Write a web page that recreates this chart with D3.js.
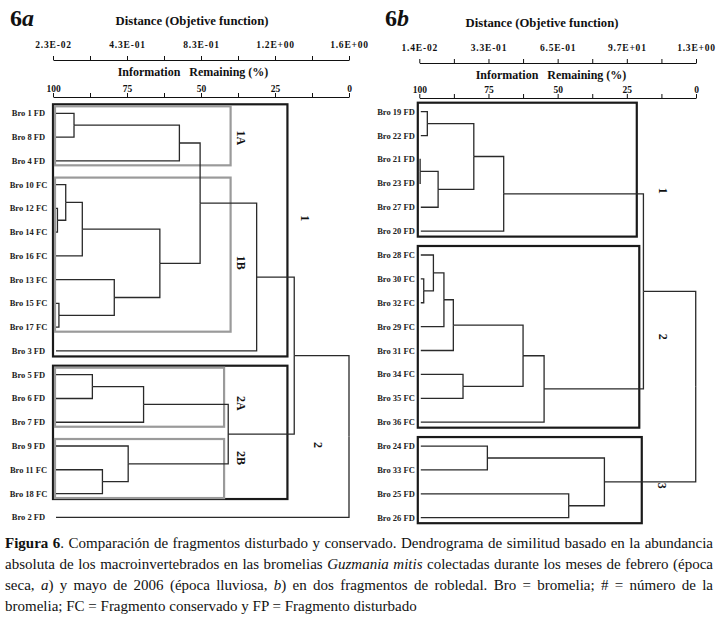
<!DOCTYPE html>
<html>
<head>
<meta charset="utf-8">
<script src="https://cdn.jsdelivr.net/npm/d3@7"></script>
<style>
  body { margin: 0; background: #fff; }
  #wrap { position: relative; width: 720px; height: 622px; overflow: hidden; background: #fff; }
  svg { position: absolute; left: 0; top: 0; }
  .cap { position: absolute; left: 5px; top: 533px; width: 708px;
         font-family: "Liberation Serif", "Times New Roman", serif; font-size: 15px;
         line-height: 21px; color: #111; }
  .cap div { text-align: justify; text-align-last: justify; }
  .cap div.last { text-align-last: left; }
  .axis text { font-family: "Liberation Serif", serif; font-weight: bold; fill: #111; }
  .axis path, .axis line { stroke: #111; }
</style>
</head>
<body>
<div id="wrap">
  <svg id="chart" width="720" height="622"></svg>
  <div class="cap">
    <div><b>Figura 6</b>. Comparación de fragmentos disturbado y conservado. Dendrograma de similitud basado en la abundancia</div>
    <div>absoluta de los macroinvertebrados en las bromelias <i>Guzmania mitis</i> colectadas durante los meses de febrero (época</div>
    <div>seca, <i>a</i>) y mayo de 2006 (época lluviosa, <i>b</i>) en dos fragmentos de robledal. Bro = bromelia; # = número de la</div>
    <div class="last">bromelia; FC = Fragmento conservado y FP = Fragmento disturbado</div>
  </div>
</div>
<script>
// ---- data ----
const infoTicks  = [100, 87.5, 75, 62.5, 50, 37.5, 25, 12.5, 0];
const infoLabels = [100, 75, 50, 25, 0];
const distLabelsA = ["2.3E-02", "4.3E-01", "8.3E-01", "1.2E+00", "1.6E+00"];
const distLabelsB = ["1.4E-02", "3.3E-01", "6.5E-01", "9.7E+01", "1.3E+00"];

const leavesA = ["Bro 1 FD", "Bro 8 FD", "Bro 4 FD", "Bro 10 FC", "Bro 12 FC", "Bro 14 FC",
                 "Bro 16 FC", "Bro 13 FC", "Bro 15 FC", "Bro 17 FC", "Bro 3 FD", "Bro 5 FD",
                 "Bro 6 FD", "Bro 7 FD", "Bro 9 FD", "Bro 11 FC", "Bro 18 FC", "Bro 2 FD"];

// [node, child, child, information remaining (%)]
const mergesA = [
  ["a1", "Bro 1 FD", "Bro 8 FD", 92.9],
  ["a2", "a1", "Bro 4 FD", 57.3],
  ["a3", "Bro 12 FC", "Bro 14 FC", 98.5],
  ["a4", "Bro 10 FC", "a3", 95.7],
  ["a5", "a4", "Bro 16 FC", 90.1],
  ["a6", "Bro 15 FC", "Bro 17 FC", 98.0],
  ["a7", "Bro 13 FC", "a6", 79.3],
  ["a8", "a5", "a7", 63.9],
  ["a9", "a2", "a8", 50.3],
  ["a10", "a9", "Bro 3 FD", 31.2],
  ["a11", "Bro 5 FD", "Bro 6 FD", 86.7],
  ["a12", "a11", "Bro 7 FD", 69.4],
  ["a13", "Bro 11 FC", "Bro 18 FC", 83.3],
  ["a14", "Bro 9 FD", "a13", 74.6],
  ["a15", "a12", "a14", 40.8],
  ["a16", "a10", "a15", 18.5],
  ["a17", "a16", "Bro 2 FD", 0]
];

// [label, first leaf, last leaf, right edge (%)]
const clustersA  = [["1", "Bro 1 FD", "Bro 3 FD", 20.8], ["2", "Bro 5 FD", "Bro 18 FC", 20.8]];
const subgroupsA = [["1A", "Bro 1 FD", "Bro 4 FD", 40.0], ["1B", "Bro 10 FC", "Bro 17 FC", 40.0],
                    ["2A", "Bro 5 FD", "Bro 7 FD", 42.2], ["2B", "Bro 9 FD", "Bro 18 FC", 42.2]];

const leavesB = ["Bro 19 FD", "Bro 22 FD", "Bro 21 FD", "Bro 23 FD", "Bro 27 FD", "Bro 20 FD",
                 "Bro 28 FC", "Bro 30 FC", "Bro 32 FC", "Bro 29 FC", "Bro 31 FC", "Bro 34 FC",
                 "Bro 35 FC", "Bro 36 FC", "Bro 24 FD", "Bro 33 FC", "Bro 25 FD", "Bro 26 FD"];

const mergesB = [
  ["b1", "Bro 19 FD", "Bro 22 FD", 97.1],
  ["b2", "Bro 21 FD", "Bro 23 FD", 99.7],
  ["b3", "b2", "Bro 27 FD", 93.2],
  ["b4", "b1", "b3", 80.3],
  ["b5", "b4", "Bro 20 FD", 69.5],
  ["b6", "Bro 30 FC", "Bro 32 FC", 98.4],
  ["b7", "Bro 28 FC", "b6", 94.9],
  ["b8", "b7", "Bro 29 FC", 91.1],
  ["b9", "b8", "Bro 31 FC", 87.7],
  ["b10", "Bro 34 FC", "Bro 35 FC", 84.2],
  ["b11", "b9", "b10", 62.5],
  ["b12", "b11", "Bro 36 FC", 54.9],
  ["b13", "b5", "b12", 19.0],
  ["b14", "Bro 24 FD", "Bro 33 FC", 75.4],
  ["b15", "Bro 25 FD", "Bro 26 FD", 46.0],
  ["b16", "b14", "b15", 33.1],
  ["b17", "b13", "b16", 0.1]
];

const clustersB  = [["1", "Bro 19 FD", "Bro 20 FD", 21.4], ["2", "Bro 28 FC", "Bro 36 FC", 20.5],
                    ["3", "Bro 24 FD", "Bro 26 FD", 19.6]];
const subgroupsB = [];

// ---- layout ----
const svg = d3.select("#chart");
const serif = "'Liberation Serif', 'Times New Roman', serif";

const panels = [
  {
    tag: "6", letter: "a", tagX: 10,
    x: [53, 349], y: [113.3, 517.3], labelX: 28.5, leafInset: 3, boxInset: 0,
    top: {title: 25, distLabels: 48, distLine: 60, infoTitle: 76, infoLine: 97},
    titleX: 192, infoTitleX: 193,
    leaves: leavesA, merges: mergesA, clusters: clustersA, subgroups: subgroupsA, dist: distLabelsA,
    clusterLabel: {"1": [14.9, -12], "2": [10.5, 12.6]},
    subLabel: {"1A": [36.5, 2], "1B": [36.5, 8], "2A": [36.5, 6], "2B": [36.5, -10.5]}
  },
  {
    tag: "6", letter: "b", tagX: 385,
    x: [419.3, 696], y: [111.7, 517.7], labelX: 396, leafInset: 1.5, boxInset: -1.5,
    top: {title: 27, distLabels: 51, distLine: 63, infoTitle: 79, infoLine: 98},
    titleX: 542, infoTitleX: 551,
    leaves: leavesB, merges: mergesB, clusters: clustersB, subgroups: subgroupsB, dist: distLabelsB,
    clusterLabel: {"1": [12.0, 21], "2": [12.0, 0], "3": [12.3, 5.6]},
    subLabel: {}
  }
];

function buildTree(leaves, merges) {
  const parentOf = {};
  merges.forEach(([id, a, b]) => { parentOf[a] = id; parentOf[b] = id; });
  const rows = leaves.map(name => ({id: name, height: 100}))
    .concat(merges.map(([id, a, b, h]) => ({id: id, height: h})));
  rows.forEach(r => r.parent = parentOf[r.id]);
  return d3.stratify().id(d => d.id).parentId(d => d.parent)(rows);
}

panels.forEach(p => {
  const g = svg.append("g");
  const x = d3.scaleLinear().domain([100, 0]).range(p.x);
  const y = d3.scalePoint().domain(p.leaves).range(p.y);

  // panel tag
  const tag = g.append("text").attr("x", p.tagX).attr("y", 26)
    .style("font-family", serif).style("font-size", "24px").style("font-weight", "bold").attr("fill", "#111");
  tag.append("tspan").text(p.tag);
  tag.append("tspan").style("font-style", "italic").text(p.letter);

  // distance axis
  g.append("text").attr("x", p.titleX).attr("y", p.top.title).attr("text-anchor", "middle")
    .style("font-family", serif).style("font-size", "12.7px").style("font-weight", "bold").attr("fill", "#111")
    .text("Distance (Objetive function)");

  const distAxis = d3.axisTop(x).tickValues(infoTicks).tickSize(4).tickSizeOuter(0)
    .tickPadding(8)
    .tickFormat(v => { const i = infoLabels.indexOf(v); return i < 0 ? "" : p.dist[i]; });
  g.append("g").attr("class", "axis").attr("transform", `translate(0,${p.top.distLine})`)
    .call(distAxis)
    .call(a => a.selectAll("text").style("font-size", "9.5px").style("letter-spacing", "0.8px"));

  // information remaining axis
  g.append("text").attr("x", p.infoTitleX).attr("y", p.top.infoTitle).attr("text-anchor", "middle")
    .style("font-family", serif).style("font-size", "12px").style("font-weight", "bold")
    .style("white-space", "pre").attr("fill", "#111")
    .text("Information   Remaining (%)");

  const infoAxis = d3.axisTop(x).tickValues(infoTicks).tickSize(4).tickSizeOuter(0)
    .tickPadding(1)
    .tickFormat(v => infoLabels.includes(v) ? d3.format("d")(v) : "");
  g.append("g").attr("class", "axis").attr("transform", `translate(0,${p.top.infoLine})`)
    .call(infoAxis)
    .call(a => a.selectAll("text").style("font-size", "9.5px"));

  // boxes
  const boxRect = (first, last, right, padTop, padBottom, inset) => {
    const x0 = x(100) + inset, y0 = y(first) - padTop;
    return {x: x0, y: y0, w: x(right) - x0, h: y(last) + padBottom - y0};
  };

  p.clusters.forEach(([label, first, last, right]) => {
    const r = boxRect(first, last, right, 9, 5.5, p.boxInset);
    g.append("rect").attr("x", r.x).attr("y", r.y).attr("width", r.w).attr("height", r.h)
      .attr("fill", "none").attr("stroke", "#1a1a1a").attr("stroke-width", 2.2);
    const [lv, dy] = p.clusterLabel[label];
    g.append("text").attr("transform", `translate(${x(lv)},${r.y + r.h / 2 + dy}) rotate(90)`)
      .attr("text-anchor", "middle").attr("dominant-baseline", "central")
      .style("font-family", serif).style("font-size", "12px").style("font-weight", "bold").attr("fill", "#111")
      .text(label);
  });

  p.subgroups.forEach(([label, first, last, right]) => {
    const r = boxRect(first, last, right, 7, 4.5, p.boxInset + 2);
    g.append("rect").attr("x", r.x).attr("y", r.y).attr("width", r.w).attr("height", r.h)
      .attr("fill", "none").attr("stroke", "#9a9a9a").attr("stroke-width", 2.2);
    const [lv, dy] = p.subLabel[label];
    g.append("text").attr("transform", `translate(${x(lv)},${r.y + r.h / 2 + dy}) rotate(90)`)
      .attr("text-anchor", "middle").attr("dominant-baseline", "central")
      .style("font-family", serif).style("font-size", "12px").style("font-weight", "bold").attr("fill", "#111")
      .text(label);
  });

  // dendrogram
  const root = buildTree(p.leaves, p.merges);
  root.eachAfter(n => {
    n.px = x(n.data.height);
    n.py = n.children ? d3.mean(n.children, c => c.py) : y(n.id);
  });

  g.append("g").selectAll("path")
    .data(root.descendants().filter(n => n.parent))
    .join("path")
    .attr("d", n => {
      const sx = n.children ? n.px : x(100) + p.leafInset;
      return `M${sx},${n.py}H${n.parent.px}V${n.parent.py}`;
    })
    .attr("fill", "none").attr("stroke", "#2a2a2a").attr("stroke-width", 1.3);

  // leaf labels
  g.append("g").selectAll("text")
    .data(p.leaves)
    .join("text")
    .attr("x", p.labelX).attr("y", d => y(d) + 3)
    .attr("text-anchor", "middle")
    .style("font-family", serif).style("font-size", "8.5px").style("font-weight", "bold")
    .attr("fill", "#222")
    .text(d => d);
});
</script>
</body>
</html>
